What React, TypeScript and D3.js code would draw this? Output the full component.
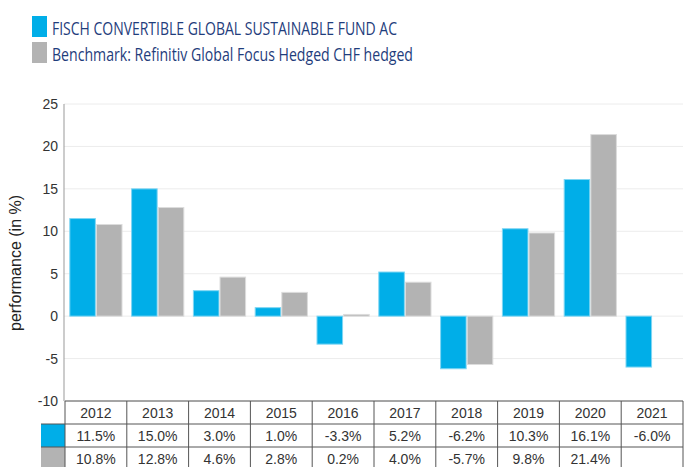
import React from "react";
import * as d3 from "d3";

const years = ["2012", "2013", "2014", "2015", "2016", "2017", "2018", "2019", "2020", "2021"];
const fund: (number | null)[] = [11.5, 15.0, 3.0, 1.0, -3.3, 5.2, -6.2, 10.3, 16.1, -6.0];
const bench: (number | null)[] = [10.8, 12.8, 4.6, 2.8, 0.2, 4.0, -5.7, 9.8, 21.4, null];
const seriesNames = ["FISCH CONVERTIBLE GLOBAL SUSTAINABLE FUND AC", "Benchmark: Refinitiv Global Focus Hedged CHF hedged"];
const yTicks = [-10, -5, 0, 5, 10, 15, 20, 25];

const BLUE = "#00aee8";
const GRAY = "#b3b3b3";
const TEXT = "#1f3d7c";

export default function App() {
  const W = 684, H = 467;
  const left = 65, right = 683, top = 104, bottom = 401;
  const x = d3.scaleBand<string>().domain(years).range([left, right]).paddingInner(0).paddingOuter(0);
  const inner = d3.scaleBand<string>().domain(["f", "b"]).range([0, x.bandwidth()]).paddingInner(0.04).paddingOuter(0.18);
  const y = d3.scaleLinear().domain([-10, 25]).range([bottom, top]);
  const rowH = 23;
  const rows = [bottom, bottom + rowH, bottom + rowH * 2, bottom + rowH * 3];
  const font = "Liberation Sans, Arial, sans-serif";
  const fmt = (v: number | null) => (v == null ? "" : v.toFixed(1) + "%");

  const bar = (v: number | null, yr: string, k: string, color: string) => {
    if (v == null) return null;
    const x0 = (x(yr) as number) + (inner(k) as number);
    const y0 = Math.min(y(v), y(0));
    const h = Math.abs(y(v) - y(0));
    return <rect key={yr + k} x={x0} y={y0} width={inner.bandwidth()} height={Math.max(h, 1)} fill={color} stroke={k === "f" ? "#7fd6f3" : "#dcdcdc"} strokeWidth={1} />;
  };

  return (
    <svg width={W} height={H} style={{ position: "absolute", left: 0, top: 0, background: "#fff" }}>
      {/* legend */}
      <rect x={32} y={16} width={15} height={21} fill={BLUE} />
      <text x={52} y={35} fontFamily="Open Sans, sans-serif" fontSize={18} fill={TEXT} textLength={345} lengthAdjust="spacingAndGlyphs">{seriesNames[0]}</text>
      <rect x={32} y={42} width={15} height={21} fill={GRAY} />
      <text x={52} y={61} fontFamily="Open Sans, sans-serif" fontSize={18} fill={TEXT} textLength={361} lengthAdjust="spacingAndGlyphs">{seriesNames[1]}</text>

      {/* gridlines */}
      {yTicks.map((t) => (
        <line key={"g" + t} x1={left - 1} x2={right} y1={y(t)} y2={y(t)} stroke="#ececec" strokeWidth={1} />
      ))}
      {/* y tick labels */}
      {yTicks.map((t) => (
        <text key={"t" + t} x={58} y={y(t) + 5} textAnchor="end" fontFamily={font} fontSize={14} fill="#333">{t}</text>
      ))}
      <text transform={`translate(21,263) rotate(-90)`} textAnchor="middle" fontFamily={font} fontSize={16} fill="#222">performance (in %)</text>

      {/* bars */}
      {years.map((yr, i) => (
        <g key={yr}>
          {bar(fund[i], yr, "f", BLUE)}
          {bar(bench[i], yr, "b", GRAY)}
        </g>
      ))}

      {/* axis line */}
      <line x1={left - 1} x2={left - 1} y1={top} y2={bottom} stroke="#999" strokeWidth={1} />

      {/* table */}
      <rect x={41} y={rows[1]} width={24} height={rowH} fill={BLUE} />
      <rect x={41} y={rows[2]} width={24} height={rowH} fill={GRAY} />
      {rows.slice(0, 3).map((r, i) => (
        <line key={"h" + i} x1={i === 0 ? left : 41} x2={right} y1={r} y2={r} stroke="#555" strokeWidth={1} />
      ))}
      {years.map((yr) => (
        <line key={"v" + yr} x1={x(yr)} x2={x(yr)} y1={bottom} y2={H} stroke="#555" strokeWidth={1} />
      ))}
      <line x1={right} x2={right} y1={bottom} y2={H} stroke="#555" strokeWidth={1} />
      {years.map((yr, i) => {
        const cx = (x(yr) as number) + x.bandwidth() / 2;
        return (
          <g key={"c" + yr} fontFamily={font} fontSize={14} fill="#333" textAnchor="middle">
            <text x={cx} y={rows[0] + 17}>{yr}</text>
            <text x={cx} y={rows[1] + 17}>{fmt(fund[i])}</text>
            <text x={cx} y={rows[2] + 17}>{fmt(bench[i])}</text>
          </g>
        );
      })}
    </svg>
  );
}
